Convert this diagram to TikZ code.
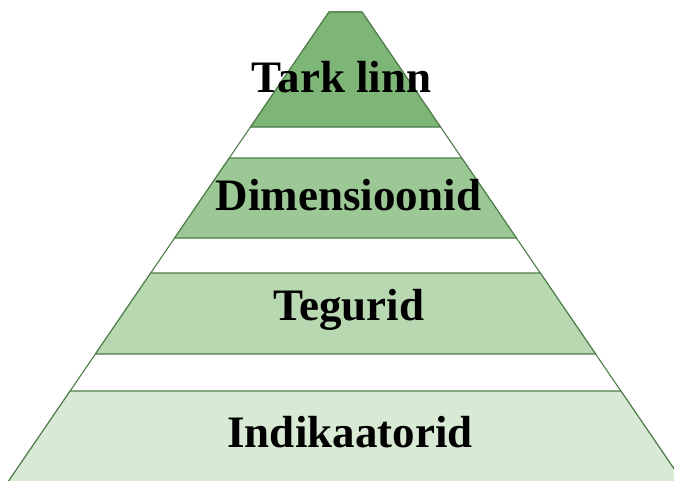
\documentclass[tikz,border=0pt]{standalone}
\usepackage{fontspec}
\setmainfont{Liberation Serif}
\definecolor{edge}{HTML}{4E7D49}
\definecolor{bandA}{HTML}{7EB677}
\definecolor{bandB}{HTML}{9BC894}
\definecolor{bandC}{HTML}{B8D8B1}
\definecolor{bandD}{HTML}{D8EAD4}
\tikzset{
  band/.style={draw=edge, line width=1.1pt, line join=miter},
  label/.style={anchor=base, inner sep=0pt, font=\fontsize{45}{54}\selectfont\bfseries, text=black}
}
\begin{document}
\begin{tikzpicture}[x=1pt,y=-1pt]
\useasboundingbox (0,0) rectangle (674,480);
\clip (0,0) rectangle (674,480);
% whole outline
\draw[band, fill=white] (329,12) -- (362,12) -- (688.5,490) -- (2.5,490) -- cycle;
% bands
\draw[band, fill=bandA] (329,12) -- (362,12) -- (440.5,127) -- (250.5,127) -- cycle;
\draw[band, fill=bandB] (229.3,158) -- (461.7,158) -- (516.4,238) -- (174.6,238) -- cycle;
\draw[band, fill=bandC] (150.7,273) -- (540.3,273) -- (595.6,354) -- (95.4,354) -- cycle;
\draw[band, fill=bandD] (70.1,391) -- (620.9,391) -- (688.5,490) -- (2.5,490) -- cycle;
% labels
\node[label] (t1) at (341.5,92) {Tark linn};
\node[label] (t2) at (348.5,210) {Dimensioonid};
\node[label] (t3) at (349,320) {Tegurid};
\node[label] (t4) at (350,447) {Indikaatorid};
\end{tikzpicture}
\end{document}
